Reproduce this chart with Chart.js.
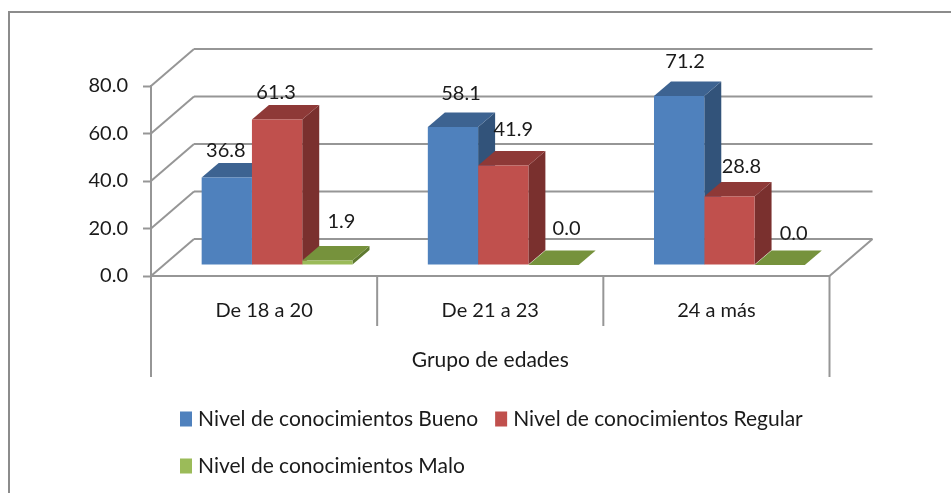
<!DOCTYPE html>
<html>
<head>
<meta charset="utf-8">
<title>Nivel de conocimientos por grupo de edades</title>
<script src="https://cdn.jsdelivr.net/npm/chart.js@4/dist/chart.umd.min.js"></script>
<style>
  html, body { margin: 0; padding: 0; background: #fff; overflow: hidden; }
  /* the original is a slightly soft screenshot */
  canvas { display: block; filter: blur(0.35px); }
</style>
</head>
<body>
<canvas id="chart" width="951" height="493"></canvas>
<script>
// Data
const categories = ['De 18 a 20', 'De 21 a 23', '24 a más'];
const seriesNames = [
    'Nivel de conocimientos Bueno',
    'Nivel de conocimientos Regular',
    'Nivel de conocimientos Malo'
];
const bueno = [36.8, 58.1, 71.2];
const regular = [61.3, 41.9, 28.8];
const malo = [1.9, 0.0, 0.0];
const yTicks = [0, 20, 40, 60, 80];
const axisTitle = 'Grupo de edades';

// Colours: front, top and side face of the bars
const frontColors = ['#4F81BD', '#C0504D', '#9BBB59'];
const topColors = ['#3D6391', '#8E3937', '#76923C'];
const sideColors = ['#32537A', '#7A302E', '#5F7A30'];
const lineColor = '#969696';
const textColor = '#1a1a1a';
const fontFamily = "Lato, 'Open Sans', sans-serif";
const numberSize = 20;
const wordSize = 21;

// The 3D look: wall depth, where the bars stand on the floor, bar depth
const wall = { dx: 43, dy: -37 };
const barShift = { dx: 13, dy: -11 };
const barDepth = { dx: 17, dy: -14.5 };

// Hand placed data labels in the original, offset from the bar's top centre
const labelOffsets = [
    [[-1, -27], [8, -33], [6, -34]],
    [[-1, -27], [10, -36], [12, -30]],
    [[14, -39], [13, -36], [14, -31]]
];

const legendRows = [[0, 1], [2]];
const legendLayout = { x: 180, rowY: [419, 466], swatchW: 12, swatchH: 15, textGap: 6, itemGap: 17 };

function line(ctx, x1, y1, x2, y2) {
    ctx.beginPath();
    ctx.moveTo(x1, y1);
    ctx.lineTo(x2, y2);
    ctx.stroke();
}

function poly(ctx, pts, color) {
    ctx.fillStyle = color;
    ctx.beginPath();
    pts.forEach((p, i) => i ? ctx.lineTo(p[0], p[1]) : ctx.moveTo(p[0], p[1]));
    ctx.closePath();
    ctx.fill();
}

const frame3d = {
    id: 'frame3d',
    beforeDraw(chart) {
        const ctx = chart.ctx;
        ctx.save();
        ctx.strokeStyle = '#8c8c8c';
        ctx.lineWidth = 2;
        // outer chart border, open at the right and bottom like the original crop
        ctx.beginPath();
        ctx.moveTo(chart.width, 12);
        ctx.lineTo(9, 12);
        ctx.lineTo(9, chart.height);
        ctx.stroke();
        ctx.restore();
    },
    beforeDatasetsDraw(chart) {
        const ctx = chart.ctx;
        const { x, y } = chart.scales;

        // side wall and back wall gridlines
        ctx.save();
        ctx.strokeStyle = lineColor;
        ctx.lineWidth = 2;
        yTicks.forEach(v => {
            const py = y.getPixelForValue(v);
            line(ctx, x.left, py, x.left + wall.dx, py + wall.dy);
            line(ctx, x.left + wall.dx, py + wall.dy, x.right + wall.dx, py + wall.dy);
        });
        // floor edge on the right
        const floorY = y.getPixelForValue(0);
        line(ctx, x.right, floorY, x.right + wall.dx, floorY + wall.dy);

        // two level category axis dividers
        const step = (x.right - x.left) / categories.length;
        for (let i = 0; i <= categories.length; i++) {
            const px = x.left + i * step;
            const outer = i === 0 || i === categories.length;
            line(ctx, px, floorY, px, floorY + (outer ? 101 : 50));
        }
        ctx.restore();

        // bars stand further back on the floor; the native bars are the front faces
        ctx.save();
        ctx.translate(barShift.dx, barShift.dy);
        categories.forEach((c, i) => {
            chart.data.datasets.forEach((ds, d) => {
                const el = chart.getDatasetMeta(d).data[i];
                const l = el.x - el.width / 2;
                const r = el.x + el.width / 2;
                const dx = barDepth.dx;
                const dy = barDepth.dy;
                poly(ctx, [[r, el.y], [r + dx, el.y + dy], [r + dx, el.base + dy], [r, el.base]], sideColors[d]);
                poly(ctx, [[l, el.y], [l + dx, el.y + dy], [r + dx, el.y + dy], [r, el.y]], topColors[d]);
            });
        });
    },
    afterDatasetsDraw(chart) {
        chart.ctx.restore();
    },
    afterDraw(chart) {
        const ctx = chart.ctx;
        ctx.save();
        ctx.fillStyle = textColor;
        ctx.textBaseline = 'middle';

        // data labels
        ctx.font = numberSize + 'px ' + fontFamily;
        ctx.textAlign = 'center';
        chart.data.datasets.forEach((ds, d) => {
            ds.data.forEach((v, i) => {
                const el = chart.getDatasetMeta(d).data[i];
                const off = labelOffsets[d][i];
                ctx.fillText(v.toFixed(1), el.x + barShift.dx + off[0], el.y + barShift.dy + off[1]);
            });
        });

        // legend: two rows, left aligned
        ctx.font = wordSize + 'px ' + fontFamily;
        ctx.textAlign = 'left';
        const L = legendLayout;
        legendRows.forEach((row, r) => {
            let px = L.x;
            const py = L.rowY[r];
            row.forEach(d => {
                const ds = chart.data.datasets[d];
                ctx.fillStyle = ds.backgroundColor;
                ctx.fillRect(px, py - L.swatchH / 2, L.swatchW, L.swatchH);
                px += L.swatchW + L.textGap;
                ctx.fillStyle = textColor;
                ctx.fillText(ds.label, px, py);
                px += ctx.measureText(ds.label).width + L.itemGap;
            });
        });
        ctx.restore();
    }
};

new Chart(document.getElementById('chart'), {
    type: 'bar',
    data: {
        labels: categories,
        datasets: [bueno, regular, malo].map((values, d) => ({
            label: seriesNames[d],
            data: values,
            backgroundColor: frontColors[d],
            borderWidth: 0,
            categoryPercentage: 0.667,
            barPercentage: 1,
            clip: false
        }))
    },
    options: {
        responsive: false,
        animation: false,
        layout: { padding: { top: 86, right: 121.5, left: 0, bottom: 0 } },
        plugins: {
            legend: { display: false },
            tooltip: { enabled: false }
        },
        scales: {
            x: {
                afterFit(scale) { scale.height = 217; },
                border: { color: lineColor, width: 2 },
                grid: { drawOnChartArea: false, drawTicks: false },
                ticks: {
                    padding: 23,
                    maxRotation: 0,
                    color: textColor,
                    font: { family: fontFamily, size: numberSize }
                },
                title: {
                    display: true,
                    text: axisTitle,
                    color: textColor,
                    font: { family: fontFamily, size: wordSize },
                    padding: { top: 0, bottom: 120 }
                }
            },
            y: {
                min: 0,
                max: 80,
                afterFit(scale) { scale.width = 151; },
                afterBuildTicks(scale) { scale.ticks = yTicks.map(v => ({ value: v })); },
                border: { color: lineColor, width: 2 },
                grid: { drawOnChartArea: false, drawTicks: true, tickLength: 8, tickColor: lineColor, tickWidth: 2 },
                ticks: {
                    padding: 15,
                    color: textColor,
                    font: { family: fontFamily, size: numberSize },
                    callback: value => value.toFixed(1)
                }
            }
        }
    },
    plugins: [frame3d]
});
</script>
</body>
</html>
